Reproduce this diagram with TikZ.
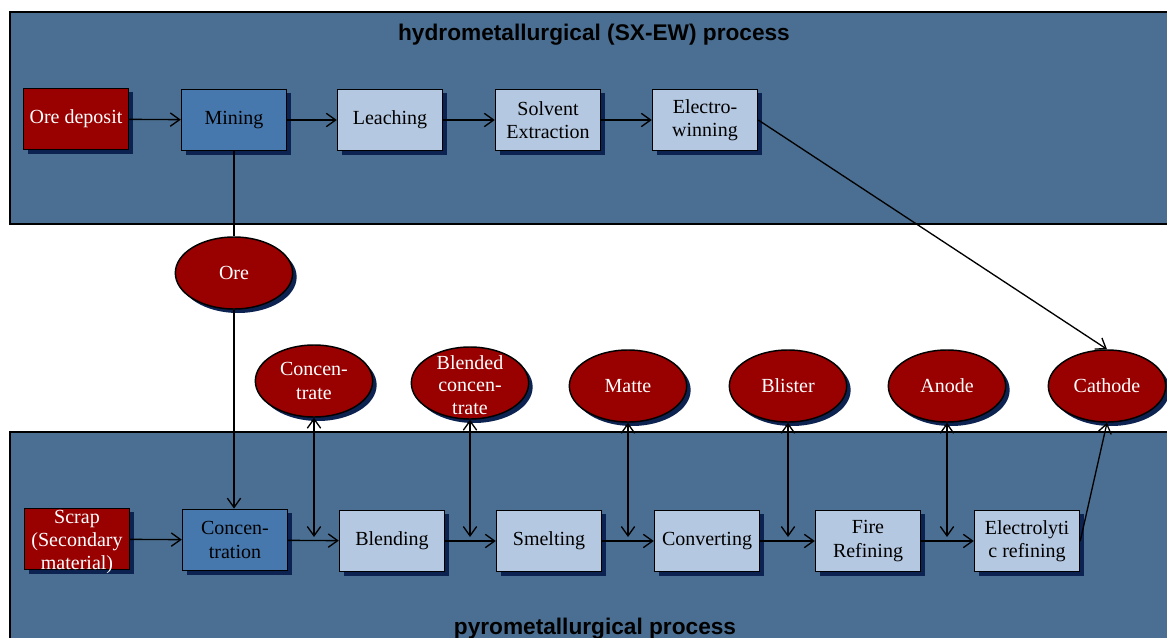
\documentclass[tikz,border=0pt]{standalone}
\usepackage{fontspec}
\setmainfont{Liberation Serif}
\newfontfamily\titlefamily{Liberation Sans}
\usetikzlibrary{arrows.meta,shapes.geometric,shadows}

\definecolor{panelblue}{RGB}{75,111,146}
\definecolor{lightbox}{RGB}{181,200,225}
\definecolor{midbox}{RGB}{70,120,174}
\definecolor{oxred}{RGB}{153,0,0}
\definecolor{shadowblue}{RGB}{12,34,80}

\tikzset{
  boxshadow/.style={drop shadow={shadow xshift=3pt,shadow yshift=-3pt,fill=shadowblue,opacity=1}},
  stepbox/.style={rectangle, draw=black, line width=1.1pt, minimum width=78.75pt,
    minimum height=46pt, inner sep=1pt, align=center,
    font=\fontsize{15}{17.6}\selectfont, boxshadow},
  lightstep/.style={stepbox, fill=lightbox, text=black},
  midstep/.style={stepbox, fill=midbox, text=black},
  redstep/.style={stepbox, fill=oxred, text=white},
  product/.style={ellipse, draw=black, line width=1.1pt, fill=oxred, text=white,
    minimum width=88pt, minimum height=54pt, inner sep=0pt, align=center,
    font=\fontsize{15}{17.6}\selectfont, boxshadow},
  overtext/.style={text=white, align=center, inner sep=0pt,
    font=\fontsize{15}{17}\selectfont},
  panel/.style={fill=panelblue, draw=black, line width=0.8pt},
  paneltitle/.style={font=\titlefamily\bfseries\fontsize{17}{20}\selectfont, text=black, inner sep=0pt},
  flow/.style={line width=1pt, -{Straight Barb[length=7pt,width=10pt,line width=1pt]}},
  twoway/.style={line width=1pt, {Straight Barb[length=7pt,width=10pt,line width=1pt]}-{Straight Barb[length=7pt,width=10pt,line width=1pt]}},
  link/.style={line width=1pt}
}

\begin{document}
\begin{tikzpicture}[x=0.75pt,y=-0.75pt]
\useasboundingbox (0,0) rectangle (1167,638);

% background panels for the two process routes
\draw[panel] (10,12) rectangle (1180,224);
\draw[panel] (10,432) rectangle (1180,660);
\node[paneltitle, anchor=base] (hydrotitle) at (594,41) {hydrometallurgical (SX-EW) process};
\node[paneltitle, anchor=base] (pyrotitle) at (595,634) {pyrometallurgical process};

% hydrometallurgical route
\node[redstep]   (deposit)  at (76,119)  {Ore deposit};
\node[midstep]   (mining)   at (234,120) {Mining};
\node[lightstep] (leach)    at (390,120) {Leaching};
\node[lightstep] (solvent)  at (548,120) {Solvent\\Extraction};
\node[lightstep] (ewin)     at (705,120) {Electro-\\winning};

% intermediate products
\node[product] (ore)       at (234,273) {Ore};
\node[product] (conc)      at (314,381) {Concen-\\trate};
\node[product] (blendconc) at (470,383) {};
\node[overtext] (blendtext) at (470,385) {Blended\\concen-\\trate};
\node[product] (matte)     at (628,386) {Matte};
\node[product] (blister)   at (788,386) {Blister};
\node[product] (anode)     at (947,386) {Anode};
\node[product] (cathode)   at (1107,386) {Cathode};

% pyrometallurgical route
\node[redstep]   (scrap)    at (77,539)  {};
\node[overtext]  (scraptext) at (77,542) {Scrap\\(Secondary\\material)};
\node[midstep]   (concn)    at (235,540) {Concen-\\tration};
\node[lightstep] (blend)    at (392,541) {Blending};
\node[lightstep] (smelt)    at (549,541) {Smelting};
\node[lightstep] (convert)  at (707,541) {Converting};
\node[lightstep] (fire)     at (868,541) {Fire\\Refining};
\node[lightstep] (elref)    at (1027,541) {Electrolyti\\c refining};

% hydrometallurgical flow
\draw[flow] (deposit) -- (mining);
\draw[flow] (mining) -- (leach);
\draw[flow] (leach) -- (solvent);
\draw[flow] (solvent) -- (ewin);
\draw[flow] (ewin.east) -- (cathode.north);

% ore feed to concentration
\draw[link] (mining.south) -- (ore.north);
\draw[flow] (ore.south) -- (ore.south |- concn.north);

% pyrometallurgical flow
\draw[flow] (scrap) -- (concn);
\draw[flow] (concn) -- (blend);
\draw[flow] (blend) -- (smelt);
\draw[flow] (smelt) -- (convert);
\draw[flow] (convert) -- (fire);
\draw[flow] (fire) -- (elref);
\draw[flow] (elref.east) -- (cathode.south);

% products drawn off between the steps
\draw[twoway] (conc.south) -- ([yshift=3pt]conc.south |- blend.west);
\draw[twoway] (blendconc.south) -- ([yshift=3pt]blendconc.south |- smelt.west);
\draw[twoway] (matte.south) -- ([yshift=3pt]matte.south |- convert.west);
\draw[twoway] (blister.south) -- ([yshift=3pt]blister.south |- fire.west);
\draw[twoway] (anode.south) -- ([yshift=3pt]anode.south |- elref.west);
\end{tikzpicture}
\end{document}
